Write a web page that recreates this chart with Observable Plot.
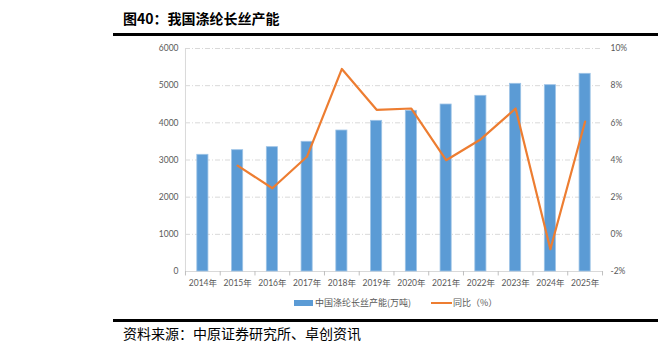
<!DOCTYPE html>
<html><head><meta charset="utf-8">
<script src="https://cdn.jsdelivr.net/npm/d3@7"></script>
<script src="https://cdn.jsdelivr.net/npm/@observablehq/plot@0.6"></script>
<style>
body{margin:0;background:#fff;}
#wrap{position:relative;width:658px;height:354px;overflow:hidden;font-family:"Noto Sans CJK SC","Noto Sans",sans-serif;}
.abs{position:absolute;white-space:nowrap;}
</style></head>
<body><div id="wrap"></div>
<script>
const years = ["2014年","2015年","2016年","2017年","2018年","2019年","2020年","2021年","2022年","2023年","2024年","2025年"];
const capacity = [3140,3264,3345,3490,3793,4054,4323,4493,4727,5050,5013,5319];
const yoy = [null,3.7,2.48,4.19,8.9,6.7,6.77,3.99,5.12,6.77,-0.8,6.07];
const leftTicks = [0,1000,2000,3000,4000,5000,6000];
const rightTickLabels = ["-2%","0%","2%","4%","6%","8%","10%"];
const titleText = "图40：我国涤纶长丝产能";
const sourceText = "资料来源：中原证券研究所、卓创资讯";
const legendBar = "中国涤纶长丝产能(万吨)";
const legendLine = "同比（%）";

// map pct onto the left scale domain (-2%..10% <-> 0..6000)
const pctToLeft = p => (p + 2) * 500;
const barData = years.map((y,i)=>({year:y, value:capacity[i]}));
const lineData = years.map((y,i)=>({year:y, pct:yoy[i]})).filter(d=>d.pct!=null);

const chart = Plot.plot({
  width:658, height:354,
  marginTop:48, marginBottom:83, marginLeft:185, marginRight:56,
  style:{fontFamily:"Lato, 'Noto Sans CJK SC', sans-serif", fontSize:"8.5px", color:"#595959", background:"transparent"},
  x:{domain:years, paddingInner:0.68, paddingOuter:0.34, round:false, label:null},
  y:{domain:[0,6000], label:null},
  marks:[
    Plot.ruleY(leftTicks.slice(1), {stroke:"#d9d9d9", strokeDasharray:"5,2,1,2", strokeWidth:1}),
    Plot.ruleY([0], {stroke:"#d9d9d9", strokeWidth:1}),
    Plot.ruleX([years[0]], {y1:0, y2:6000, stroke:"#d9d9d9", dx:-17.4}),
    Plot.ruleX(years, {y1:0, y2:-120, stroke:"#bfbfbf", dx:-17.4}),
    Plot.ruleX([years[years.length-1]], {y1:0, y2:-120, stroke:"#bfbfbf", dx:17.4}),
    Plot.barY(barData, {x:"year", y:"value", fill:"#5b9bd5", stroke:"#9dc3e6", strokeWidth:0.8}),
    Plot.line(lineData, {x:"year", y:d=>pctToLeft(d.pct), stroke:"#ed7d31", strokeWidth:2.2, strokeLinejoin:"round"}),
    Plot.axisY({ticks:leftTicks, tickSize:0, tickPadding:7, anchor:"left", label:null, fill:"#595959", tickFormat:d=>String(d)}),
    Plot.axisY({ticks:leftTicks, tickSize:0, tickPadding:8, anchor:"right", label:null, fill:"#595959",
      tickFormat:(v)=>rightTickLabels[leftTicks.indexOf(v)]}),
    Plot.axisX({tickSize:0, tickPadding:8, label:null, fill:"#595959"})
  ]
});
chart.style.position="absolute"; chart.style.left="0"; chart.style.top="0";
const wrap = document.getElementById("wrap");
wrap.appendChild(chart);

function add(html, css){const d=document.createElement("div");d.className="abs";d.innerHTML=html;Object.assign(d.style,css);wrap.appendChild(d);return d;}
add(titleText,{left:"123px",top:"9px",fontSize:"14px",fontWeight:"bold",color:"#000",lineHeight:"18px"});
add("",{left:"113px",top:"33px",width:"545px",height:"3px",background:"#000"});
add("",{left:"113px",top:"319px",width:"545px",height:"3px",background:"#000"});
add(sourceText,{left:"123px",top:"324px",fontSize:"14px",color:"#000",lineHeight:"18px"});
// legend
add("",{left:"294px",top:"300px",width:"19px",height:"6px",background:"#5b9bd5"});
add(legendBar,{left:"315px",top:"296px",fontSize:"9px",color:"#595959",lineHeight:"13px"});
add("",{left:"431px",top:"302px",width:"21px",height:"2px",background:"#ed7d31"});
add(legendLine,{left:"453px",top:"296px",fontSize:"9px",color:"#595959",lineHeight:"13px"});
</script></body></html>
